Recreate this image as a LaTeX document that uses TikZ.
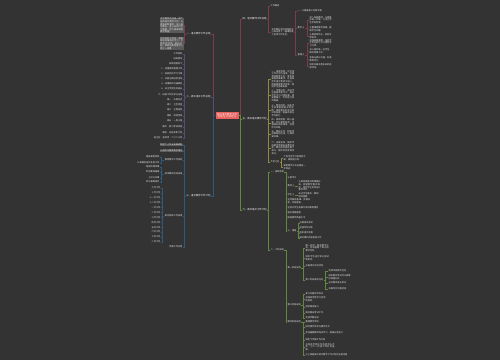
\documentclass[tikz,border=0pt]{standalone}
\usepackage{fontspec}
\newfontfamily\cjk{Noto Sans CJK SC}
\XeTeXlinebreaklocale "zh"
\XeTeXlinebreakskip=0pt plus 1pt
\usetikzlibrary{positioning}
\definecolor{Bg}{HTML}{333333}
\definecolor{RootRed}{HTML}{E8625F}
\definecolor{Slab}{HTML}{5A5A5A}
\definecolor{Ink}{HTML}{E4E4E4}
\definecolor{Maroon}{HTML}{7E3C48}
\definecolor{Plum}{HTML}{594C78}
\definecolor{Steel}{HTML}{2E5B7D}
\definecolor{Olive}{HTML}{8E8B3C}
\definecolor{Moss}{HTML}{62883A}
\tikzset{
  leaf/.style={font=\cjk\fontsize{2.2}{2.6}\selectfont,text=Ink,inner sep=0.4pt},
  blurb/.style={leaf,text width=#1,align=left},
  branch/.style={font=\cjk\fontsize{2.4}{2.8}\selectfont,text=white,inner sep=0.4pt},
  rootbox/.style={fill=RootRed,text=white,font=\cjk\fontsize{2.3}{2.7}\selectfont,
    text width=22pt,align=center,minimum height=7pt,inner sep=0.5pt},
  link/.style={line width=0.45pt},
}

\begin{document}
\begin{tikzpicture}[x=1pt,y=-1pt]
  \fill[Bg] (0,0) rectangle (500,360);
  \useasboundingbox (0,0) rectangle (500,360);

  % centre
  \node[rootbox] (root) at (227,115.5) {高中语文教学工作\\总结与计划范文};

  % main branches
  \node[branch,anchor=east] (lA) at (211,34) {一、语文教学工作总结};
  \node[branch,anchor=east] (lB) at (211,97) {二、高中语文工作总结};
  \node[branch,anchor=east] (lC) at (211,196) {三、语文教学工作计划};
  \node[branch,anchor=west] (rA) at (242,19) {四、语文教师工作总结};
  \node[branch,anchor=west] (rB) at (242,119) {五、高中语文教学计划};
  \node[branch,anchor=west] (rC) at (242,210) {六、高中语文工作计划};

  \draw[link,Maroon] (root.west) -- ++(-2,0) |- (lA.east);
  \draw[link,Plum] (root.west) -- ++(-2,0) |- (lB.east);
  \draw[link,Steel] (root.west) -- ++(-2,0) |- (lC.east);
  \draw[link,Maroon] (root.east) -- ++(1.5,0) |- (rA.west);
  \draw[link,Olive] (root.east) -- ++(1.5,0) |- (rB.west);
  \draw[link,Moss] (root.east) -- ++(1.5,0) |- (rC.west);

  % left, first branch
  \node[blurb=23pt,fill=Slab,anchor=east] (lA1) at (184,25.5) {本学期我担任高一两个班的语文教学工作，认真钻研新课标，深入研究教法，虚心向同行学习请教，努力提高课堂教学质量。};
  \node[blurb=23pt,fill=Slab,anchor=east] (lA2) at (184,43.5) {在今后的工作中，我将继续加强理论学习，不断反思总结，取长补短，争取在教育教学上更上一层楼。};
  \foreach \c in {lA1,lA2}
    \draw[link,Maroon] (lA.west) -- ++(-2,0) |- (\c.east);

  % left, second branch
  \foreach \y/\t [count=\i] in {54/工作目标,59/班级情况,64/具体措施如下,69/1．加强常规管理工作,
      74/2．培养良好学习习惯,79/3．开展主题班会活动,84/4．加强家校沟通联系,89/5．关注学困生的成长,
      95/六、班级工作反思与总结,100/周一　升旗仪式,105/周二　卫生检查,110/周三　主题班会,
      116/周四　阅读活动,121/周五　一周小结,127/期中　复习考试安排,133/期末　总结表彰大会,
      138/班主任：张老师　二〇二三年}{
    \node[leaf,anchor=east] (lB\i) at (183,\y) {\t};
    \draw[link,Plum] (lB.west) -- ++(-2,0) |- (lB\i.east);
  }

  % left, third branch
  \node[leaf,fill=Slab,anchor=east] (lC1) at (183,145) {制定个人专业发展规划};
  \node[leaf,fill=Slab,anchor=east] (lC2) at (183,151) {认真学习教育教学理论};
  \node[leaf,anchor=east] (lC3) at (183,160) {教育教学工作目标};
  \node[leaf,anchor=east] (lC4) at (183,174) {校本教研活动安排};
  \node[leaf,anchor=east] (lC5) at (183,216) {每月具体工作安排};
  \node[leaf,anchor=east] (lC6) at (183,247) {学期工作反思};
  \foreach \i in {1,...,6}
    \draw[link,Steel] (lC.west) -- ++(-2,0) |- (lC\i.east);

  \node[leaf,anchor=east] (lC31) at (160,157) {提高课堂效率};
  \node[leaf,anchor=east] (lC32) at (160,163) {认真做好培优补差工作};
  \foreach \i in {1,2}
    \draw[link,Steel] (lC3.west) -- ++(-2.5,0) |- (lC3\i.east);

  \foreach \y/\t [count=\i] in {167/每周听课评课,172/参加集体备课,178/上好公开课,182/参与课题研究}{
    \node[leaf,anchor=east] (lC4\i) at (160,\y) {\t};
    \draw[link,Steel] (lC4.west) -- ++(-2.5,0) |- (lC4\i.east);
  }

  \foreach \t [count=\i] in {九月工作,十月工作,十一月工作,十二月工作,一月工作,二月工作,
      三月工作,四月工作,五月工作,六月工作,七月工作,八月工作}{
    \node[leaf,anchor=east] (lC5\i) at (161,{188+4.9*(\i-1)}) {\t};
    \draw[link,Steel] (lC5.west) -- ++(-2,0) |- (lC5\i.east);
  }

  % right, first branch
  \node[leaf,anchor=west] (rA1) at (270,6) {工作概述};
  \node[blurb=22pt,anchor=west] (rA2) at (271,32) {本学期在学校领导的关心和支持下，圆满完成了各项工作任务。};
  \foreach \c in {rA1,rA2}
    \draw[link,Maroon] (rA.east) -- ++(1.5,0) |- (\c.west);

  \node[leaf,anchor=west] (rA21) at (297,11) {一、认真备课上好每节课};
  \node[leaf,anchor=west] (rA22) at (297,28) {教学上};
  \node[leaf,anchor=west] (rA23) at (297,55) {管理上};
  \foreach \i in {1,2,3}
    \draw[link,Maroon] (rA2.east) -- ++(1.5,0) |- (rA2\i.west);

  \node[blurb=22pt,anchor=west] (rA221) at (309,20) {深入钻研教材，认真备好每一节课，力求让学生学有所得。};
  \node[blurb=22pt,anchor=west] (rA222) at (309,29) {注重课堂教学效果，提高学生兴趣。};
  \node[blurb=22pt,anchor=west] (rA223) at (309,36) {认真批改作业，及时反馈讲评。};
  \foreach \i in {1,2,3}
    \draw[link,Maroon] (rA22.east) -- ++(2,0) |- (rA22\i.west);

  \node[blurb=22pt,anchor=west] (rA231) at (309,43) {加强班级管理，培养学生良好的行为习惯和学习习惯。};
  \node[blurb=22pt,anchor=west] (rA232) at (309,51) {关心爱护每一位学生，做好思想工作。};
  \node[blurb=22pt,anchor=west] (rA233) at (309,59) {积极与家长沟通，形成教育合力。};
  \node[blurb=22pt,anchor=west] (rA234) at (309,66) {组织开展丰富多彩的班级活动。};
  \foreach \i in {1,...,4}
    \draw[link,Maroon] (rA23.east) -- ++(2,0) |- (rA23\i.west);

  % right, second branch
  \node[blurb=23pt,anchor=west] (rB1) at (271,79) {一、指导思想：以学校工作计划为指导，全面贯彻教育方针，落实新课程改革要求，以培养学生语文素养为核心，提高课堂教学效率，促进学生全面发展。};
  \node[blurb=23pt,anchor=west] (rB2) at (271,95.5) {二、学情分析：本班学生基础参差不齐，部分学生学习习惯较差，阅读量偏少，写作能力有待提高。};
  \node[blurb=23pt,anchor=west] (rB3) at (271,110.5) {三、教学目标：培养学生热爱祖国语文的感情，掌握基本的语文知识和技能，提高阅读与写作能力。};
  \node[blurb=23pt,anchor=west] (rB4) at (271,123.5) {四、具体措施：精心备课，优化课堂结构，加强课外阅读指导，坚持作文训练。};
  \node[blurb=23pt,anchor=west] (rB5) at (271,134) {五、教研工作：积极参加教研组活动，认真听课评课。};
  \node[blurb=23pt,anchor=west] (rB6) at (271,148) {六、进度安排：按照学校要求合理安排教学进度，期中前完成前两个单元，期中后完成其余单元。};
  \node[leaf,anchor=west] (rB7) at (270,162) {不足之处};
  \foreach \i in {1,...,7}
    \draw[link,Olive] (rB.east) -- ++(1.5,0) |- (rB\i.west);

  \node[blurb=22pt,anchor=west] (rB71) at (283,158) {个别学生学习积极性不高，需加强引导。};
  \node[blurb=22pt,anchor=west] (rB72) at (283,167) {课堂教学方法还需进一步改进。};
  \foreach \i in {1,2}
    \draw[link,Olive] (rB7.east) -- ++(1.5,0) |- (rB7\i.west);

  % right, third branch
  \node[leaf,anchor=west] (rC1) at (270,172) {一、指导思想};
  \node[leaf,anchor=west] (rC2) at (270,250) {二、工作安排};
  \foreach \i in {1,2}
    \draw[link,Moss] (rC.east) -- ++(1.5,0) |- (rC\i.west);

  \node[leaf,anchor=west] (rC11) at (287,178) {认真学习};
  \node[leaf,anchor=west] (rC12) at (287,186) {教材上};
  \node[leaf,anchor=west] (rC13) at (287,195) {学生上};
  \node[blurb=23pt,anchor=west] (rC14) at (287,201) {坚持集体备课，资源共享，共同提高。};
  \node[leaf,anchor=west] (rC15) at (287,208) {坚持以学生发展为本的教育理念};
  \node[leaf,anchor=west] (rC16) at (287,213) {强化常规管理};
  \node[leaf,anchor=west] (rC17) at (287,218) {提高教学质量水平};
  \node[leaf,anchor=west] (rC18) at (287,231) {三、措施};
  \foreach \i in {1,...,8}
    \draw[link,Moss] (rC1.east) -- ++(1.5,0) |- (rC1\i.west);

  \node[blurb=22pt,anchor=west] (rC121) at (298,186) {认真研读教材和课程标准，把握教学重点难点，结合学生实际设计教学环节。};
  \draw[link,Moss] (rC12.east) -- (rC121.west);
  \node[blurb=20pt,anchor=west] (rC131) at (298,195) {关注学生差异，做到因材施教。};
  \draw[link,Moss] (rC13.east) -- (rC131.west);

  \foreach \y/\t [count=\i] in {223/开展读书活动,228/加强写作训练,233/组织语文竞赛,238/做好课外阅读指导工作}{
    \node[leaf,anchor=west] (rC18\i) at (299,\y) {\t};
    \draw[link,Moss] (rC18.east) -- ++(1.5,0) |- (rC18\i.west);
  }

  \node[leaf,anchor=west] (rC21) at (287,268) {第一阶段安排};
  \node[leaf,anchor=west] (rC22) at (287,305) {第三阶段安排};
  \node[leaf,anchor=west] (rC23) at (287,322) {第四阶段安排};
  \foreach \i in {1,2,3}
    \draw[link,Moss] (rC2.east) -- ++(1.5,0) |- (rC2\i.west);

  \node[blurb=24pt,anchor=west] (rC211) at (305,248) {第一阶段：制定教学计划，完成前两个单元的教学任务。};
  \node[blurb=24pt,anchor=west] (rC212) at (305,258) {组织学生进行单元测试和讲评。};
  \node[leaf,anchor=west] (rC213) at (305,266) {开展读书交流活动};
  \node[leaf,anchor=west] (rC214) at (305,280) {第二阶段具体任务};
  \foreach \i in {1,...,4}
    \draw[link,Moss] (rC21.east) -- ++(2,0) |- (rC21\i.west);

  \node[leaf,anchor=west] (rC2141) at (328,271) {完成中段教学任务};
  \node[blurb=22pt,anchor=west] (rC2142) at (328,277) {组织期中考试并认真做好质量分析。};
  \node[leaf,anchor=west] (rC2143) at (328,283) {召开期中家长会议};
  \node[leaf,anchor=west] (rC2144) at (328,289) {开展作文比赛活动};
  \foreach \i in {1,...,4}
    \draw[link,Moss] (rC214.east) -- ++(1.5,0) |- (rC214\i.west);

  \node[leaf,anchor=west] (rC221) at (305,294) {复习巩固所学知识};
  \node[blurb=20pt,anchor=west] (rC222) at (305,299) {加强综合性学习活动的指导。};
  \node[leaf,anchor=west] (rC223) at (305,307) {组织期末复习};
  \node[leaf,anchor=west] (rC224) at (305,313) {做好期末考试工作};
  \node[leaf,anchor=west] (rC225) at (305,318) {完成学期总结};
  \foreach \i in {1,...,5}
    \draw[link,Moss] (rC22.east) -- ++(2,0) |- (rC22\i.west);

  \node[leaf,anchor=west] (rC231) at (305,322) {整理教学资料};
  \node[leaf,anchor=west] (rC232) at (305,327) {撰写教学反思与教学论文};
  \node[leaf,anchor=west] (rC233) at (305,333) {参加暑期教师培训学习，提高业务能力};
  \node[leaf,anchor=west] (rC234) at (305,340) {制定下学期工作计划};
  \node[blurb=30pt,anchor=west] (rC235) at (305,347) {总结本学期工作的经验与不足，为下一阶段工作打好基础。};
  \node[leaf,anchor=west] (rC236) at (305,355) {以上就是高中语文教学工作计划的全部内容};
  \foreach \i in {1,...,6}
    \draw[link,Moss] (rC23.east) -- ++(2,0) |- (rC23\i.west);
\end{tikzpicture}
\end{document}
